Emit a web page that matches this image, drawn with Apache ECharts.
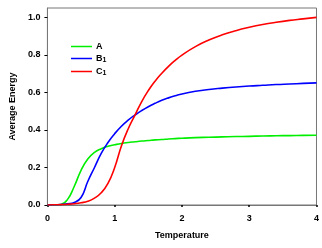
<!DOCTYPE html>
<html><head><meta charset="utf-8">
<script src="https://cdn.jsdelivr.net/npm/echarts@6/dist/echarts.min.js"></script>
<style>html,body{margin:0;padding:0;background:#fff}#c{width:322px;height:248px}</style>
</head><body><div id="c"></div>
<script>
var temps    = [0, 0.1, 0.2, 0.3, 0.4, 0.5, 0.6, 0.7, 0.8, 0.9, 1.0, 1.1, 1.2, 1.3, 1.4, 1.5, 1.6, 1.7, 1.8, 1.9, 2.0, 2.2, 2.4, 2.6, 2.8, 3.0, 3.2, 3.4, 3.6, 3.8, 4.0];
var seriesA  = [0, 0.001, 0.003, 0.03, 0.10, 0.185, 0.245, 0.28, 0.30, 0.313, 0.321, 0.328, 0.333, 0.337, 0.341, 0.344, 0.347, 0.349, 0.352, 0.354, 0.356, 0.359, 0.361, 0.363, 0.365, 0.366, 0.368, 0.369, 0.370, 0.371, 0.372];
var seriesB1 = [0, 0.001, 0.003, 0.006, 0.013, 0.04, 0.125, 0.20, 0.275, 0.333, 0.38, 0.42, 0.452, 0.479, 0.503, 0.524, 0.542, 0.558, 0.571, 0.582, 0.592, 0.606, 0.616, 0.623, 0.629, 0.634, 0.638, 0.642, 0.645, 0.648, 0.651];
var seriesC1 = [0, 0.001, 0.002, 0.004, 0.007, 0.012, 0.02, 0.037, 0.065, 0.115, 0.20, 0.315, 0.405, 0.478, 0.55, 0.61, 0.66, 0.702, 0.739, 0.771, 0.799, 0.844, 0.879, 0.907, 0.929, 0.947, 0.962, 0.974, 0.984, 0.992, 1.0];
var names = ['A', 'B1', 'C1'];
var colors = ['#00ee00', '#0000ff', '#ff0000'];
var yTicks = [0, 0.2, 0.4, 0.6, 0.8, 1.0];

function pairs(ys){ return temps.map(function(t,i){ return [t, ys[i]]; }); }
var FONT = '"Liberation Sans", Arial, sans-serif';
var chart = echarts.init(document.getElementById('c'), null, {renderer:'canvas'});
chart.setOption({
  animation: false,
  grid: {left: 45, right: 5, top: 8, bottom: 43, show: true, borderColor: '#777', borderWidth: 1},
  legend: {
    left: 71, top: 42, padding: 0, orient: 'vertical', itemWidth: 21, itemHeight: 10, itemGap: 3,
    icon: 'path://M0,0L21,0L21,1.5L0,1.5Z',
    data: names.map(function(n,i){ return {name: n, itemStyle:{color: colors[i]}}; }),
    formatter: function(n){ return n.length > 1 ? '{b|' + n[0] + '}{s|' + n.slice(1) + '}' : '{b|' + n + '}'; },
    textStyle: {
      fontFamily: FONT, fontWeight: 'bold', fontSize: 9, color: '#000', padding: [0,0,0,-1],
      rich: {
        b: {fontFamily: FONT, fontWeight: 'bold', fontSize: 9, color: '#000'},
        s: {fontFamily: FONT, fontWeight: 'bold', fontSize: 7, color: '#000', padding: [4,0,0,0]}
      }
    }
  },
  xAxis: {
    type: 'value', min: 0, max: 4, interval: 1,
    name: 'Temperature', nameLocation: 'middle', nameGap: 26,
    nameTextStyle: {fontFamily: FONT, fontWeight: 'bold', fontSize: 9, color: '#000'},
    axisLine: {show: true, onZero: false, lineStyle: {color: '#777', width: 1}},
    axisTick: {show: true, length: 2, lineStyle: {color: '#000', width: 1.5}},
    axisLabel: {fontFamily: FONT, fontWeight: 'bold', fontSize: 9, color: '#000', margin: 9},
    splitLine: {show: false}
  },
  yAxis: {
    type: 'value', min: 0, max: 1.05,
    name: 'Average Energy', nameLocation: 'middle', nameGap: 22, nameRotate: 90,
    nameTextStyle: {fontFamily: FONT, fontWeight: 'bold', fontSize: 9, color: '#000'},
    axisLine: {show: true, onZero: false, lineStyle: {color: '#777', width: 1}},
    axisTick: {show: true, length: 3, customValues: yTicks, lineStyle: {color: '#000', width: 1}},
    axisLabel: {customValues: yTicks, fontFamily: FONT, fontWeight: 'bold', fontSize: 9, color: '#000', margin: 7,
      formatter: function(v){ return v.toFixed(1); }},
    splitLine: {show: false}
  },
  series: [seriesA, seriesB1, seriesC1].map(function(d, i){
    return {name: names[i], type: 'line', data: pairs(d), smooth: true, symbol: 'none',
      lineStyle: {color: colors[i], width: 1.6}, itemStyle: {color: colors[i]}};
  })
});
</script></body></html>
